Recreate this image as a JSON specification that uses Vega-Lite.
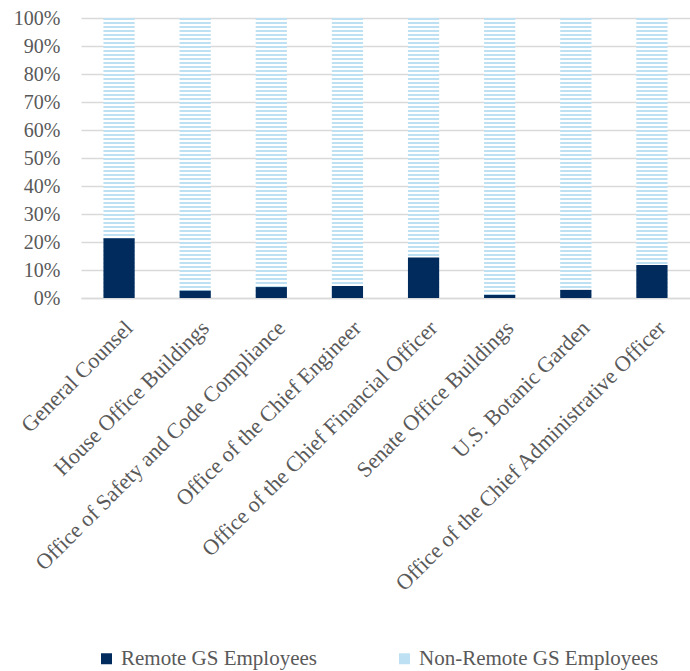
{
 "$schema": "https://vega.github.io/schema/vega-lite/v6.json",
 "width": 609,
 "height": 280,
 "autosize": {"type": "none"},
 "padding": {"left": 81, "top": 18, "right": 0, "bottom": 373},
 "background": "white",
 "config": {
  "view": {"stroke": null},
  "scale": {"bandPaddingInner": 0.59, "bandPaddingOuter": 0.295},
  "axis": {"labelFont": "Liberation Serif", "labelColor": "#595959"},
  "axisY": {"labelFont": "Liberation Serif", "labelColor": "#595959", "labelFontSize": 20, "labelOverlap": false, "domain": false, "ticks": false, "tickSize": 0, "labelPadding": 21, "gridColor": "#D9D9D9", "gridWidth": 1.5}
 },
 "data": {"values": [
  {"category": "General Counsel", "group": "Remote GS Employees", "value": 21.3},
  {"category": "General Counsel", "group": "Non-Remote GS Employees", "value": 78.7},
  {"category": "House Office Buildings", "group": "Remote GS Employees", "value": 2.6},
  {"category": "House Office Buildings", "group": "Non-Remote GS Employees", "value": 97.4},
  {"category": "Office of Safety and Code Compliance", "group": "Remote GS Employees", "value": 3.9},
  {"category": "Office of Safety and Code Compliance", "group": "Non-Remote GS Employees", "value": 96.1},
  {"category": "Office of the Chief Engineer", "group": "Remote GS Employees", "value": 4.3},
  {"category": "Office of the Chief Engineer", "group": "Non-Remote GS Employees", "value": 95.7},
  {"category": "Office of the Chief Financial Officer", "group": "Remote GS Employees", "value": 14.5},
  {"category": "Office of the Chief Financial Officer", "group": "Non-Remote GS Employees", "value": 85.5},
  {"category": "Senate Office Buildings", "group": "Remote GS Employees", "value": 1.1},
  {"category": "Senate Office Buildings", "group": "Non-Remote GS Employees", "value": 98.9},
  {"category": "U.S. Botanic Garden", "group": "Remote GS Employees", "value": 2.9},
  {"category": "U.S. Botanic Garden", "group": "Non-Remote GS Employees", "value": 97.1},
  {"category": "Office of the Chief Administrative Officer", "group": "Remote GS Employees", "value": 11.8},
  {"category": "Office of the Chief Administrative Officer", "group": "Non-Remote GS Employees", "value": 88.2}
 ]},
 "encoding": {
  "x": {
   "field": "category", "type": "nominal", "title": null,
   "sort": ["General Counsel", "House Office Buildings", "Office of Safety and Code Compliance", "Office of the Chief Engineer", "Office of the Chief Financial Officer", "Senate Office Buildings", "U.S. Botanic Garden", "Office of the Chief Administrative Officer"],
   "axis": {"labelAngle": -45, "labelAlign": "right", "labelBaseline": "top", "labelFont": "Liberation Serif", "labelFontSize": 22, "ticks": false, "domain": true, "domainColor": "#D9D9D9", "domainWidth": 1.5, "labelPadding": 19, "labelOffset": 3, "labelLimit": 600}
  }
 },
 "layer": [
  {
   "mark": {"type": "bar", "fill": {"gradient": "linear", "x1": 0, "y1": 0, "x2": 0, "y2": 1, "stops": [
{"offset":0.0,"color":"#BDE0F3"},{"offset":0.0083,"color":"#BDE0F3"},{"offset":0.0083,"color":"#FFFFFF"},{"offset":0.0143,"color":"#FFFFFF"},
{"offset":0.0143,"color":"#BDE0F3"},{"offset":0.0226,"color":"#BDE0F3"},{"offset":0.0226,"color":"#FFFFFF"},{"offset":0.0286,"color":"#FFFFFF"},
{"offset":0.0286,"color":"#BDE0F3"},{"offset":0.0369,"color":"#BDE0F3"},{"offset":0.0369,"color":"#FFFFFF"},{"offset":0.0429,"color":"#FFFFFF"},
{"offset":0.0429,"color":"#BDE0F3"},{"offset":0.0511,"color":"#BDE0F3"},{"offset":0.0511,"color":"#FFFFFF"},{"offset":0.0571,"color":"#FFFFFF"},
{"offset":0.0571,"color":"#BDE0F3"},{"offset":0.0654,"color":"#BDE0F3"},{"offset":0.0654,"color":"#FFFFFF"},{"offset":0.0714,"color":"#FFFFFF"},
{"offset":0.0714,"color":"#BDE0F3"},{"offset":0.0797,"color":"#BDE0F3"},{"offset":0.0797,"color":"#FFFFFF"},{"offset":0.0857,"color":"#FFFFFF"},
{"offset":0.0857,"color":"#BDE0F3"},{"offset":0.094,"color":"#BDE0F3"},{"offset":0.094,"color":"#FFFFFF"},{"offset":0.1,"color":"#FFFFFF"},
{"offset":0.1,"color":"#BDE0F3"},{"offset":0.1083,"color":"#BDE0F3"},{"offset":0.1083,"color":"#FFFFFF"},{"offset":0.1143,"color":"#FFFFFF"},
{"offset":0.1143,"color":"#BDE0F3"},{"offset":0.1226,"color":"#BDE0F3"},{"offset":0.1226,"color":"#FFFFFF"},{"offset":0.1286,"color":"#FFFFFF"},
{"offset":0.1286,"color":"#BDE0F3"},{"offset":0.1369,"color":"#BDE0F3"},{"offset":0.1369,"color":"#FFFFFF"},{"offset":0.1429,"color":"#FFFFFF"},
{"offset":0.1429,"color":"#BDE0F3"},{"offset":0.1511,"color":"#BDE0F3"},{"offset":0.1511,"color":"#FFFFFF"},{"offset":0.1571,"color":"#FFFFFF"},
{"offset":0.1571,"color":"#BDE0F3"},{"offset":0.1654,"color":"#BDE0F3"},{"offset":0.1654,"color":"#FFFFFF"},{"offset":0.1714,"color":"#FFFFFF"},
{"offset":0.1714,"color":"#BDE0F3"},{"offset":0.1797,"color":"#BDE0F3"},{"offset":0.1797,"color":"#FFFFFF"},{"offset":0.1857,"color":"#FFFFFF"},
{"offset":0.1857,"color":"#BDE0F3"},{"offset":0.194,"color":"#BDE0F3"},{"offset":0.194,"color":"#FFFFFF"},{"offset":0.2,"color":"#FFFFFF"},
{"offset":0.2,"color":"#BDE0F3"},{"offset":0.2083,"color":"#BDE0F3"},{"offset":0.2083,"color":"#FFFFFF"},{"offset":0.2143,"color":"#FFFFFF"},
{"offset":0.2143,"color":"#BDE0F3"},{"offset":0.2226,"color":"#BDE0F3"},{"offset":0.2226,"color":"#FFFFFF"},{"offset":0.2286,"color":"#FFFFFF"},
{"offset":0.2286,"color":"#BDE0F3"},{"offset":0.2369,"color":"#BDE0F3"},{"offset":0.2369,"color":"#FFFFFF"},{"offset":0.2429,"color":"#FFFFFF"},
{"offset":0.2429,"color":"#BDE0F3"},{"offset":0.2511,"color":"#BDE0F3"},{"offset":0.2511,"color":"#FFFFFF"},{"offset":0.2571,"color":"#FFFFFF"},
{"offset":0.2571,"color":"#BDE0F3"},{"offset":0.2654,"color":"#BDE0F3"},{"offset":0.2654,"color":"#FFFFFF"},{"offset":0.2714,"color":"#FFFFFF"},
{"offset":0.2714,"color":"#BDE0F3"},{"offset":0.2797,"color":"#BDE0F3"},{"offset":0.2797,"color":"#FFFFFF"},{"offset":0.2857,"color":"#FFFFFF"},
{"offset":0.2857,"color":"#BDE0F3"},{"offset":0.294,"color":"#BDE0F3"},{"offset":0.294,"color":"#FFFFFF"},{"offset":0.3,"color":"#FFFFFF"},
{"offset":0.3,"color":"#BDE0F3"},{"offset":0.3083,"color":"#BDE0F3"},{"offset":0.3083,"color":"#FFFFFF"},{"offset":0.3143,"color":"#FFFFFF"},
{"offset":0.3143,"color":"#BDE0F3"},{"offset":0.3226,"color":"#BDE0F3"},{"offset":0.3226,"color":"#FFFFFF"},{"offset":0.3286,"color":"#FFFFFF"},
{"offset":0.3286,"color":"#BDE0F3"},{"offset":0.3369,"color":"#BDE0F3"},{"offset":0.3369,"color":"#FFFFFF"},{"offset":0.3429,"color":"#FFFFFF"},
{"offset":0.3429,"color":"#BDE0F3"},{"offset":0.3511,"color":"#BDE0F3"},{"offset":0.3511,"color":"#FFFFFF"},{"offset":0.3571,"color":"#FFFFFF"},
{"offset":0.3571,"color":"#BDE0F3"},{"offset":0.3654,"color":"#BDE0F3"},{"offset":0.3654,"color":"#FFFFFF"},{"offset":0.3714,"color":"#FFFFFF"},
{"offset":0.3714,"color":"#BDE0F3"},{"offset":0.3797,"color":"#BDE0F3"},{"offset":0.3797,"color":"#FFFFFF"},{"offset":0.3857,"color":"#FFFFFF"},
{"offset":0.3857,"color":"#BDE0F3"},{"offset":0.394,"color":"#BDE0F3"},{"offset":0.394,"color":"#FFFFFF"},{"offset":0.4,"color":"#FFFFFF"},
{"offset":0.4,"color":"#BDE0F3"},{"offset":0.4083,"color":"#BDE0F3"},{"offset":0.4083,"color":"#FFFFFF"},{"offset":0.4143,"color":"#FFFFFF"},
{"offset":0.4143,"color":"#BDE0F3"},{"offset":0.4226,"color":"#BDE0F3"},{"offset":0.4226,"color":"#FFFFFF"},{"offset":0.4286,"color":"#FFFFFF"},
{"offset":0.4286,"color":"#BDE0F3"},{"offset":0.4369,"color":"#BDE0F3"},{"offset":0.4369,"color":"#FFFFFF"},{"offset":0.4429,"color":"#FFFFFF"},
{"offset":0.4429,"color":"#BDE0F3"},{"offset":0.4511,"color":"#BDE0F3"},{"offset":0.4511,"color":"#FFFFFF"},{"offset":0.4571,"color":"#FFFFFF"},
{"offset":0.4571,"color":"#BDE0F3"},{"offset":0.4654,"color":"#BDE0F3"},{"offset":0.4654,"color":"#FFFFFF"},{"offset":0.4714,"color":"#FFFFFF"},
{"offset":0.4714,"color":"#BDE0F3"},{"offset":0.4797,"color":"#BDE0F3"},{"offset":0.4797,"color":"#FFFFFF"},{"offset":0.4857,"color":"#FFFFFF"},
{"offset":0.4857,"color":"#BDE0F3"},{"offset":0.494,"color":"#BDE0F3"},{"offset":0.494,"color":"#FFFFFF"},{"offset":0.5,"color":"#FFFFFF"},
{"offset":0.5,"color":"#BDE0F3"},{"offset":0.5083,"color":"#BDE0F3"},{"offset":0.5083,"color":"#FFFFFF"},{"offset":0.5143,"color":"#FFFFFF"},
{"offset":0.5143,"color":"#BDE0F3"},{"offset":0.5226,"color":"#BDE0F3"},{"offset":0.5226,"color":"#FFFFFF"},{"offset":0.5286,"color":"#FFFFFF"},
{"offset":0.5286,"color":"#BDE0F3"},{"offset":0.5369,"color":"#BDE0F3"},{"offset":0.5369,"color":"#FFFFFF"},{"offset":0.5429,"color":"#FFFFFF"},
{"offset":0.5429,"color":"#BDE0F3"},{"offset":0.5511,"color":"#BDE0F3"},{"offset":0.5511,"color":"#FFFFFF"},{"offset":0.5571,"color":"#FFFFFF"},
{"offset":0.5571,"color":"#BDE0F3"},{"offset":0.5654,"color":"#BDE0F3"},{"offset":0.5654,"color":"#FFFFFF"},{"offset":0.5714,"color":"#FFFFFF"},
{"offset":0.5714,"color":"#BDE0F3"},{"offset":0.5797,"color":"#BDE0F3"},{"offset":0.5797,"color":"#FFFFFF"},{"offset":0.5857,"color":"#FFFFFF"},
{"offset":0.5857,"color":"#BDE0F3"},{"offset":0.594,"color":"#BDE0F3"},{"offset":0.594,"color":"#FFFFFF"},{"offset":0.6,"color":"#FFFFFF"},
{"offset":0.6,"color":"#BDE0F3"},{"offset":0.6083,"color":"#BDE0F3"},{"offset":0.6083,"color":"#FFFFFF"},{"offset":0.6143,"color":"#FFFFFF"},
{"offset":0.6143,"color":"#BDE0F3"},{"offset":0.6226,"color":"#BDE0F3"},{"offset":0.6226,"color":"#FFFFFF"},{"offset":0.6286,"color":"#FFFFFF"},
{"offset":0.6286,"color":"#BDE0F3"},{"offset":0.6369,"color":"#BDE0F3"},{"offset":0.6369,"color":"#FFFFFF"},{"offset":0.6429,"color":"#FFFFFF"},
{"offset":0.6429,"color":"#BDE0F3"},{"offset":0.6511,"color":"#BDE0F3"},{"offset":0.6511,"color":"#FFFFFF"},{"offset":0.6571,"color":"#FFFFFF"},
{"offset":0.6571,"color":"#BDE0F3"},{"offset":0.6654,"color":"#BDE0F3"},{"offset":0.6654,"color":"#FFFFFF"},{"offset":0.6714,"color":"#FFFFFF"},
{"offset":0.6714,"color":"#BDE0F3"},{"offset":0.6797,"color":"#BDE0F3"},{"offset":0.6797,"color":"#FFFFFF"},{"offset":0.6857,"color":"#FFFFFF"},
{"offset":0.6857,"color":"#BDE0F3"},{"offset":0.694,"color":"#BDE0F3"},{"offset":0.694,"color":"#FFFFFF"},{"offset":0.7,"color":"#FFFFFF"},
{"offset":0.7,"color":"#BDE0F3"},{"offset":0.7083,"color":"#BDE0F3"},{"offset":0.7083,"color":"#FFFFFF"},{"offset":0.7143,"color":"#FFFFFF"},
{"offset":0.7143,"color":"#BDE0F3"},{"offset":0.7226,"color":"#BDE0F3"},{"offset":0.7226,"color":"#FFFFFF"},{"offset":0.7286,"color":"#FFFFFF"},
{"offset":0.7286,"color":"#BDE0F3"},{"offset":0.7369,"color":"#BDE0F3"},{"offset":0.7369,"color":"#FFFFFF"},{"offset":0.7429,"color":"#FFFFFF"},
{"offset":0.7429,"color":"#BDE0F3"},{"offset":0.7511,"color":"#BDE0F3"},{"offset":0.7511,"color":"#FFFFFF"},{"offset":0.7571,"color":"#FFFFFF"},
{"offset":0.7571,"color":"#BDE0F3"},{"offset":0.7654,"color":"#BDE0F3"},{"offset":0.7654,"color":"#FFFFFF"},{"offset":0.7714,"color":"#FFFFFF"},
{"offset":0.7714,"color":"#BDE0F3"},{"offset":0.7797,"color":"#BDE0F3"},{"offset":0.7797,"color":"#FFFFFF"},{"offset":0.7857,"color":"#FFFFFF"},
{"offset":0.7857,"color":"#BDE0F3"},{"offset":0.794,"color":"#BDE0F3"},{"offset":0.794,"color":"#FFFFFF"},{"offset":0.8,"color":"#FFFFFF"},
{"offset":0.8,"color":"#BDE0F3"},{"offset":0.8083,"color":"#BDE0F3"},{"offset":0.8083,"color":"#FFFFFF"},{"offset":0.8143,"color":"#FFFFFF"},
{"offset":0.8143,"color":"#BDE0F3"},{"offset":0.8226,"color":"#BDE0F3"},{"offset":0.8226,"color":"#FFFFFF"},{"offset":0.8286,"color":"#FFFFFF"},
{"offset":0.8286,"color":"#BDE0F3"},{"offset":0.8369,"color":"#BDE0F3"},{"offset":0.8369,"color":"#FFFFFF"},{"offset":0.8429,"color":"#FFFFFF"},
{"offset":0.8429,"color":"#BDE0F3"},{"offset":0.8511,"color":"#BDE0F3"},{"offset":0.8511,"color":"#FFFFFF"},{"offset":0.8571,"color":"#FFFFFF"},
{"offset":0.8571,"color":"#BDE0F3"},{"offset":0.8654,"color":"#BDE0F3"},{"offset":0.8654,"color":"#FFFFFF"},{"offset":0.8714,"color":"#FFFFFF"},
{"offset":0.8714,"color":"#BDE0F3"},{"offset":0.8797,"color":"#BDE0F3"},{"offset":0.8797,"color":"#FFFFFF"},{"offset":0.8857,"color":"#FFFFFF"},
{"offset":0.8857,"color":"#BDE0F3"},{"offset":0.894,"color":"#BDE0F3"},{"offset":0.894,"color":"#FFFFFF"},{"offset":0.9,"color":"#FFFFFF"},
{"offset":0.9,"color":"#BDE0F3"},{"offset":0.9083,"color":"#BDE0F3"},{"offset":0.9083,"color":"#FFFFFF"},{"offset":0.9143,"color":"#FFFFFF"},
{"offset":0.9143,"color":"#BDE0F3"},{"offset":0.9226,"color":"#BDE0F3"},{"offset":0.9226,"color":"#FFFFFF"},{"offset":0.9286,"color":"#FFFFFF"},
{"offset":0.9286,"color":"#BDE0F3"},{"offset":0.9369,"color":"#BDE0F3"},{"offset":0.9369,"color":"#FFFFFF"},{"offset":0.9429,"color":"#FFFFFF"},
{"offset":0.9429,"color":"#BDE0F3"},{"offset":0.9511,"color":"#BDE0F3"},{"offset":0.9511,"color":"#FFFFFF"},{"offset":0.9571,"color":"#FFFFFF"},
{"offset":0.9571,"color":"#BDE0F3"},{"offset":0.9654,"color":"#BDE0F3"},{"offset":0.9654,"color":"#FFFFFF"},{"offset":0.9714,"color":"#FFFFFF"},
{"offset":0.9714,"color":"#BDE0F3"},{"offset":0.9797,"color":"#BDE0F3"},{"offset":0.9797,"color":"#FFFFFF"},{"offset":0.9857,"color":"#FFFFFF"},
{"offset":0.9857,"color":"#BDE0F3"},{"offset":0.994,"color":"#BDE0F3"},{"offset":0.994,"color":"#FFFFFF"},{"offset":1,"color":"#FFFFFF"}
   ]}},
   "encoding": {
    "y": {
     "aggregate": "sum", "field": "value", "type": "quantitative", "title": null,
     "scale": {"domain": [0, 100]},
     "axis": {"values": [0, 10, 20, 30, 40, 50, 60, 70, 80, 90, 100], "labelExpr": "datum.value + '%'", "labelOverlap": false, "labelFont": "Liberation Serif", "labelFontSize": 20}
    }
   }
  },
  {
   "transform": [{"filter": "datum.group === 'Remote GS Employees'"}],
   "mark": {"type": "bar"},
   "encoding": {
    "y": {
     "field": "value", "type": "quantitative", "title": null,
     "axis": {"values": [0, 10, 20, 30, 40, 50, 60, 70, 80, 90, 100], "labelExpr": "datum.value + '%'", "labelOverlap": false, "labelFont": "Liberation Serif", "labelFontSize": 20}
    },
    "color": {
     "field": "group", "type": "nominal",
     "scale": {"domain": ["Remote GS Employees", "Non-Remote GS Employees"], "range": ["#002B5C", "#BDE0F3"]},
     "legend": {
      "orient": "none", "legendX": 15, "legendY": 630, "direction": "horizontal", "title": null,
      "symbolType": "square", "symbolSize": 121, "symbolStrokeWidth": 0,
      "labelFont": "Liberation Serif", "labelFontSize": 21, "labelColor": "#595959", "labelLimit": 400,
      "labelOffset": 4, "columnPadding": 77,
      "encode": {"symbols": {"update": {"fill": [
       {"test": "datum.value === 'Non-Remote GS Employees'", "value": {"gradient": "linear", "x1": 0, "y1": 0, "x2": 0, "y2": 1, "stops": [
        {"offset": 0, "color": "#BDE0F3"}, {"offset": 0.2, "color": "#BDE0F3"}, {"offset": 0.2, "color": "#FFFFFF"}, {"offset": 0.38, "color": "#FFFFFF"},
        {"offset": 0.38, "color": "#BDE0F3"}, {"offset": 0.58, "color": "#BDE0F3"}, {"offset": 0.58, "color": "#FFFFFF"}, {"offset": 0.76, "color": "#FFFFFF"},
        {"offset": 0.76, "color": "#BDE0F3"}, {"offset": 0.96, "color": "#BDE0F3"}, {"offset": 0.96, "color": "#FFFFFF"}, {"offset": 1, "color": "#FFFFFF"}
       ]}},
       {"scale": "color", "field": "value"}
      ]}}}
     }
    }
   }
  }
 ]
}
